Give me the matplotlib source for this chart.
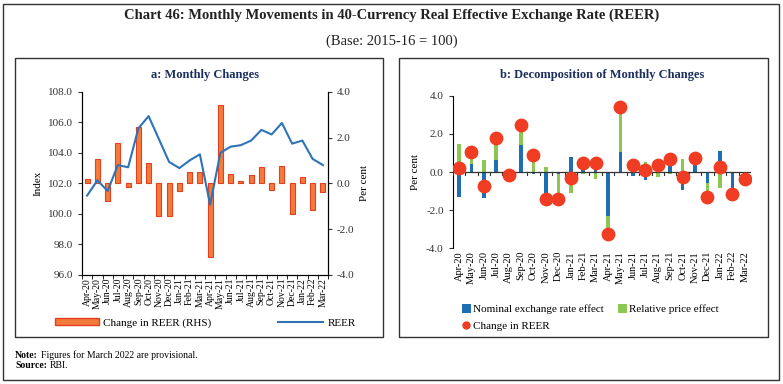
import matplotlib.pyplot as plt
from matplotlib.patches import Rectangle, Patch
from matplotlib.lines import Line2D
import numpy as np

plt.rcParams['font.family'] = ['Liberation Serif', 'DejaVu Serif']

#%% DATA
months = ['Apr-20', 'May-20', 'Jun-20', 'Jul-20', 'Aug-20', 'Sep-20', 'Oct-20', 'Nov-20',
          'Dec-20', 'Jan-21', 'Feb-21', 'Mar-21', 'Apr-21', 'May-21', 'Jun-21', 'Jul-21',
          'Aug-21', 'Sep-21', 'Oct-21', 'Nov-21', 'Dec-21', 'Jan-22', 'Feb-22', 'Mar-22']

reer = [101.2, 102.2, 101.5, 103.2, 103.05, 105.6, 106.4, 104.9, 103.4, 103.0, 103.5, 103.9,
        100.6, 104.0, 104.4, 104.5, 104.8, 105.5, 105.2, 105.95, 104.6, 104.8, 103.6, 103.2]

reer_change = [0.19, 1.05, -0.76, 1.76, -0.15, 2.46, 0.87, -1.44, -1.41, -0.32, 0.48, 0.48,
               -3.23, 3.42, 0.39, 0.10, 0.35, 0.70, -0.28, 0.76, -1.32, 0.26, -1.15, -0.36]

nominal_effect = [-1.31, 0.44, -1.38, 0.61, -0.12, 1.41, -0.12, -1.73, -0.10, 0.80, 0.55, 0.80,
                  -2.29, 1.07, -0.20, -0.44, 0.60, 0.80, -0.95, 0.55, -0.56, 1.10, -0.86, -0.10]

price_effect = [1.48, 0.61, 0.63, 1.15, -0.03, 1.05, 0.99, 0.28, -1.31, -1.12, -0.10, -0.37,
                -0.94, 2.35, 0.59, 0.54, -0.25, -0.10, 0.66, 0.21, -0.76, -0.86, -0.29, -0.26]

#%% FIGURE
W, H = 783, 384
fig = plt.figure(figsize=(W / 100, H / 100), dpi=100)

def fx(px):
    return px / W

def fy(py):
    return 1 - py / H

# outer frame and panel boxes
fig.patches.append(Rectangle((fx(3), fy(380)), fx(776), 376 / H, transform=fig.transFigure,
                             fill=False, edgecolor='#333333', linewidth=1.0))
fig.patches.append(Rectangle((fx(15), fy(337)), fx(368), 279 / H, transform=fig.transFigure,
                             fill=False, edgecolor='#333333', linewidth=1.0))
fig.patches.append(Rectangle((fx(399), fy(337)), fx(369), 279 / H, transform=fig.transFigure,
                             fill=False, edgecolor='#333333', linewidth=1.0))

fig.text(0.5, fy(15), 'Chart 46: Monthly Movements in 40-Currency Real Effective Exchange Rate (REER)',
         ha='center', va='center', fontsize=10.5, fontweight='bold', color='#222222')
fig.text(0.5, fy(41), '(Base: 2015-16 = 100)', ha='center', va='center', fontsize=10.5,
         color='#222222')

navy = '#1c2f5e'
x = np.arange(len(months))

#%% PANEL A
ax = fig.add_axes([fx(82), fy(275), fx(246), (275 - 91.7) / H])
ax2 = ax.twinx()
ax2.bar(x, reer_change, width=0.5, color='#f47b3c', edgecolor='#e2401f', linewidth=0.8, zorder=2)
ax.plot(x, reer, color='#2f73b7', linewidth=1.5, zorder=3)
ax.set_zorder(ax2.get_zorder() + 1)
ax.patch.set_visible(False)

ax.set_ylim(96, 108)
ax.set_yticks(np.arange(96, 108.1, 2))
ax.set_yticklabels([f'{v:.1f}' for v in np.arange(96, 108.1, 2)])
ax2.set_ylim(-4, 4)
ax2.set_yticks(np.arange(-4, 4.1, 2))
ax2.set_yticklabels([f'{v:.1f}' for v in np.arange(-4, 4.1, 2)])
ax.set_xlim(-0.5, len(months) - 0.5)
ax.set_xticks(x)
ax.set_xticklabels(months, rotation=90, fontsize=7)
ax.set_xticks(np.arange(-0.5, len(months)), minor=True)
ax.tick_params(axis='x', which='major', length=0, pad=2)
ax.tick_params(axis='x', which='minor', length=3)
ax.tick_params(axis='y', labelsize=8, length=3, colors='#333333')
ax2.tick_params(axis='y', labelsize=8, length=3, colors='#333333')
for a in (ax, ax2):
    a.spines['top'].set_visible(False)
ax.set_ylabel('Index', fontsize=8)
ax2.set_ylabel('Per cent', fontsize=8)
ax.set_title('a: Monthly Changes', fontsize=9, fontweight='bold', color=navy, pad=10)

handles_a = [Patch(facecolor='#f47b3c', edgecolor='#e2401f', label='Change in REER (RHS)'),
             Line2D([0], [0], color='#2f73b7', linewidth=1.5, label='REER')]
fig.legend(handles=handles_a, loc='center', bbox_to_anchor=(fx(205), fy(323)), ncol=2,
           frameon=False, fontsize=8, handlelength=4, handleheight=0.6, columnspacing=6,
           handletextpad=0.4)

#%% PANEL B
bx = fig.add_axes([fx(452.7), fy(248.3), fx(298.3), (248.3 - 95.7) / H])
price_bottom = [n if n * p > 0 else 0 for n, p in zip(nominal_effect, price_effect)]
bx.bar(x, nominal_effect, width=0.28, color='#1f6db3', zorder=2)
bx.bar(x, price_effect, width=0.28, bottom=price_bottom, color='#8cc751', zorder=2)
bx.scatter(x, reer_change, s=80, color='#f03c22', zorder=4)
bx.axhline(0, color='#333333', linewidth=0.9, zorder=3)
for xb in np.arange(-0.5, len(months)):
    bx.plot([xb, xb], [0, -0.15], color='#333333', linewidth=0.8, zorder=3)

bx.set_ylim(-4, 4)
bx.set_yticks(np.arange(-4, 4.1, 2))
bx.set_yticklabels([f'{v:.1f}' for v in np.arange(-4, 4.1, 2)])
bx.set_xlim(-0.5, len(months) - 0.5)
bx.set_xticks(x)
bx.set_xticklabels(months, rotation=90, fontsize=7.5)
bx.tick_params(axis='x', length=0, pad=2)
bx.tick_params(axis='y', labelsize=8, length=3, colors='#333333')
for s in ('top', 'right', 'bottom'):
    bx.spines[s].set_visible(False)
bx.set_ylabel('Per cent', fontsize=8)
bx.set_title('b: Decomposition of Monthly Changes', fontsize=9, fontweight='bold', color=navy,
             pad=13)

handles_b = [Patch(facecolor='#1f6db3', label='Nominal exchange rate effect'),
             Line2D([0], [0], marker='o', linestyle='none', markersize=5,
                    markerfacecolor='#f03c22', markeredgecolor='#f03c22', label='Change in REER'),
             Patch(facecolor='#8cc751', label='Relative price effect')]
fig.legend(handles=handles_b, loc='upper left', bbox_to_anchor=(fx(452), fy(294)), ncol=2,
           frameon=False, fontsize=8, handlelength=0.8, handleheight=0.8, handletextpad=0.2,
           columnspacing=1.3, labelspacing=0.6)

#%% NOTES
renderer = fig.canvas.get_renderer()
for y_px, bold, rest in [(355, 'Note:', 'Figures for March 2022 are provisional.'),
                         (366, 'Source:', 'RBI.')]:
    t = fig.text(fx(15), fy(y_px), bold, fontsize=7, fontweight='bold', va='center')
    w = t.get_window_extent(renderer).width
    fig.text(fx(15 + w + 3), fy(y_px), rest, fontsize=7, va='center')

fig.savefig('out.png', dpi=100)
